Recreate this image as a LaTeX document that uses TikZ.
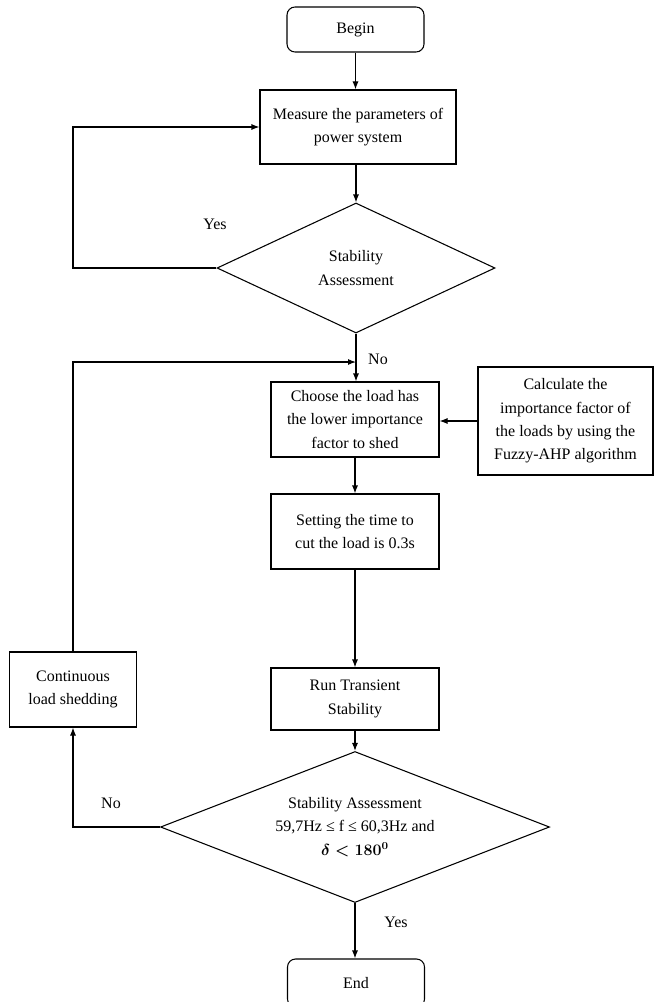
\documentclass[tikz,border=0pt]{standalone}
\usepackage{fontspec}
\setmainfont{Liberation Serif}
\usetikzlibrary{arrows.meta,shapes.geometric,calc}

\begin{document}
\begin{tikzpicture}[x=0.75pt,y=-0.75pt,line width=0.8pt,
      every node/.style={font=\fontsize{12}{17.5}\selectfont},
      box/.style={draw,align=center,inner sep=2pt},
      term/.style={box,rounded corners=6pt,minimum width=102.75pt,minimum height=33.75pt},
      cond/.style={draw,diamond,align=center,inner sep=0pt,shape aspect=2.5}]
    \useasboundingbox (0,0) rectangle (655,1002);
    % Main column
    \node[term] (bgn) at (355.5,29.5) {Begin};
    \node[box,minimum width=147pt,minimum height=55.5pt] (meas) at (358,127) {Measure the parameters of\\power system};
    \node[cond,minimum width=208.5pt,minimum height=97.5pt] (chk1) at (356,268) {Stability\\Assessment};
    \node[box,minimum width=126pt,minimum height=56.25pt] (choose) at (355,419.5) {Choose the load has\\the lower importance\\factor to shed};
    \node[box,minimum width=126pt,minimum height=56.25pt] (settime) at (355,531.5) {Setting the time to\\cut the load is 0.3s};
    \node[box,minimum width=126pt,minimum height=46.5pt] (run) at (355,699) {Run Transient\\Stability};
    \node[cond,minimum width=291.75pt,minimum height=113.25pt] (chk2) at (355,827) {Stability Assessment\\59,7Hz ≤ f ≤ 60,3Hz and\\{\boldmath$\delta < 180^{0}$}};
    \node[term,minimum height=36pt] (fin) at (356,983) {End};
    % Side boxes
    \node[box,minimum width=131.25pt,minimum height=81pt] (calc) at (565.5,421) {Calculate the\\importance factor of\\the loads by using the\\Fuzzy-AHP algorithm};
    \node[box,minimum width=95.25pt,minimum height=56.25pt] (cont) at (73,689.5) {Continuous\\load shedding};
    % Labels
    \node (yes1) at (215,224) {Yes};
    \node (no1) at (378,359) {No};
    \node (no2) at (111,803) {No};
    \node (yes2) at (396,922) {Yes};
    % Main path
    \foreach \a/\b in {bgn/meas,chk1/choose,choose/settime,settime/run,run/chk2,chk2/fin}{\draw[-{Latex[length=6pt,width=4.5pt]}](\a.south)--(\a.south |- \b.north);}
    \draw[-{Latex[length=6pt,width=4.5pt]}] (chk1.north |- meas.south) -- (chk1.north);
    \draw[-{Latex[length=6pt,width=4.5pt]}] (calc.west) -- (calc.west -| choose.east);
    % Loops
    \coordinate (merge) at (356,362);
    \draw[-{Latex[length=6pt,width=4.5pt]}] (chk1.west) -- (chk1.west -| cont) |- (meas.west);
    \draw[-{Latex[length=6pt,width=4.5pt]}] (chk2.west) -- (chk2.west -| cont) -- (cont.south);
    \draw[-{Latex[length=6pt,width=4.5pt]}] (cont.north) |- (merge);
  \end{tikzpicture}
\end{document}
